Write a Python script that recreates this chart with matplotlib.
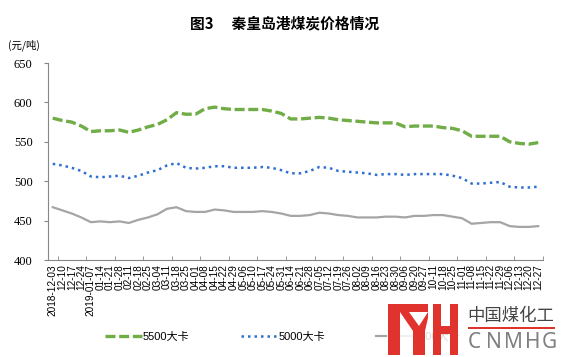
import matplotlib
matplotlib.use('Agg')
import matplotlib.pyplot as plt
from matplotlib.patches import Rectangle, Polygon

plt.rcParams['font.family'] = ['Liberation Sans', 'Noto Sans CJK SC', 'DejaVu Sans']

# weekly price dates
dates = ['2018-12-03', '12-10', '12-17', '12-24', '2019-01-07', '01-14', '01-21', '01-28',
         '02-11', '02-18', '02-25', '03-04', '03-11', '03-18', '03-25', '04-01', '04-08',
         '04-15', '04-22', '04-29', '05-06', '05-10', '05-17', '05-24', '05-31', '06-14',
         '06-21', '06-28', '07-05', '07-12', '07-19', '07-26', '08-02', '08-09', '08-16',
         '08-23', '08-30', '09-06', '09-20', '09-27', '10-11', '10-18', '10-25', '11-01',
         '11-08', '11-15', '11-22', '11-29', '12-06', '12-13', '12-20', '12-27']

p5500 = [580, 577, 575, 570, 563, 564, 564, 565, 562, 565, 569, 572, 578, 587, 585, 585,
         592, 594, 592, 591, 591, 591, 591, 589, 586, 579, 579, 580, 581, 580, 578, 577,
         576, 575, 574, 574, 574, 569, 570, 570, 570, 568, 567, 564, 557, 557, 557, 557,
         550, 548, 547, 549]
p5000 = [522, 520, 517, 513, 506, 505, 506, 507, 504, 507, 511, 514, 520, 523, 517, 516,
         517, 519, 519, 517, 517, 517, 518, 517, 514, 510, 510, 513, 518, 517, 513, 512,
         511, 510, 508, 509, 509, 508, 509, 509, 509, 509, 507, 504, 497, 497, 498, 499,
         493, 492, 492, 493]
p4500 = [467, 463, 459, 454, 448, 449, 448, 449, 447, 451, 454, 458, 465, 467, 462, 461,
         461, 464, 463, 461, 461, 461, 462, 461, 459, 456, 456, 457, 460, 459, 457, 456,
         454, 454, 454, 455, 455, 454, 456, 456, 457, 457, 455, 453, 446, 447, 448, 448,
         443, 442, 442, 443]

W, H = 561, 357
fig = plt.figure(figsize=(W / 100, H / 100), dpi=100)
ax = fig.add_axes([48 / W, 1 - 260 / H, (543 - 48) / W, (260 - 63) / H])

x = list(range(len(dates)))
ax.plot(x, p5500, color='#70ad47', lw=2.4, dashes=(3, 1.1), label='5500大卡')
ax.plot(x, p5000, color='#2e6fd0', lw=1.8, dashes=(1, 1.6), label='5000大卡')
ax.plot(x, p4500, color='#a5a5a5', lw=1.6, label='4500大卡')

ax.set_xlim(-0.5, len(dates) - 0.5)
ax.set_ylim(400, 650)
ax.set_yticks(range(400, 651, 50))
ax.set_xticks(x)
ax.set_xticklabels(dates, rotation=90, fontsize=7.2)
ax.set_xticks([i + 0.5 for i in range(0, len(dates), 3)], minor=True)
ax.tick_params(axis='x', which='major', length=0, pad=3)
ax.tick_params(axis='x', which='minor', direction='in', length=3, color='#868686')
ax.tick_params(axis='y', length=3, color='#868686', pad=8)
for lab in ax.get_yticklabels():
    lab.set_fontfamily('Liberation Serif')
    lab.set_fontsize(9)
for s in ['top', 'right']:
    ax.spines[s].set_visible(False)
for s in ['left', 'bottom']:
    ax.spines[s].set_color('#868686')

fig.text(285 / W, 1 - 23 / H, '图3　 秦皇岛港煤炭价格情况', ha='center', va='center',
         fontsize=10.6, fontweight='bold', family=['Noto Sans CJK SC'])
fig.text(8 / W, 1 - 45 / H, '(元/吨)', ha='left', va='center', fontsize=7.5,
         family=['Noto Sans CJK SC'])

fig.legend(loc='center', bbox_to_anchor=(283 / W, 1 - 337 / H), ncol=3, frameon=False,
           fontsize=8, handlelength=3.3, handletextpad=0.1, columnspacing=4.6)

# watermark logo
ov = fig.add_axes([0, 0, 1, 1], zorder=10)
ov.set_xlim(0, W)
ov.set_ylim(H, 0)
ov.axis('off')
ov.add_patch(Rectangle((387, 298), W - 387, H - 298, color='white', alpha=0.85, lw=0))
red = '#e0332d'
ov.add_patch(Rectangle((388, 304), 12, 51, color=red, lw=0))
ov.add_patch(Rectangle((388, 304), 40, 8, color=red, lw=0))
ov.add_patch(Polygon([(400, 312), (409, 312), (419, 326), (428, 312), (428, 318), (425, 331),
                      (413, 331)], color=red, lw=0))
ov.add_patch(Rectangle((413, 328), 12, 27, color=red, lw=0))
ov.add_patch(Rectangle((433, 304), 8, 51, color=red, lw=0))
ov.add_patch(Rectangle((450, 304), 8, 51, color=red, lw=0))
ov.add_patch(Rectangle((433, 326), 25, 8, color=red, lw=0))
ov.text(511, 316, '中国煤化工', ha='center', va='center', fontsize=12.5, color='#444444',
        family=['Noto Sans CJK SC'])
ov.add_patch(Rectangle((468, 327), 87, 1.5, color=red, lw=0))
for cx, ch in zip([474, 494, 513.5, 532.5, 549], 'CNMHG'):
    ov.text(cx, 342, ch, ha='center', va='center', fontsize=15, color='#7f7f7f',
            family=['Noto Sans'], fontweight='light')

fig.savefig('out.png', dpi=100)
